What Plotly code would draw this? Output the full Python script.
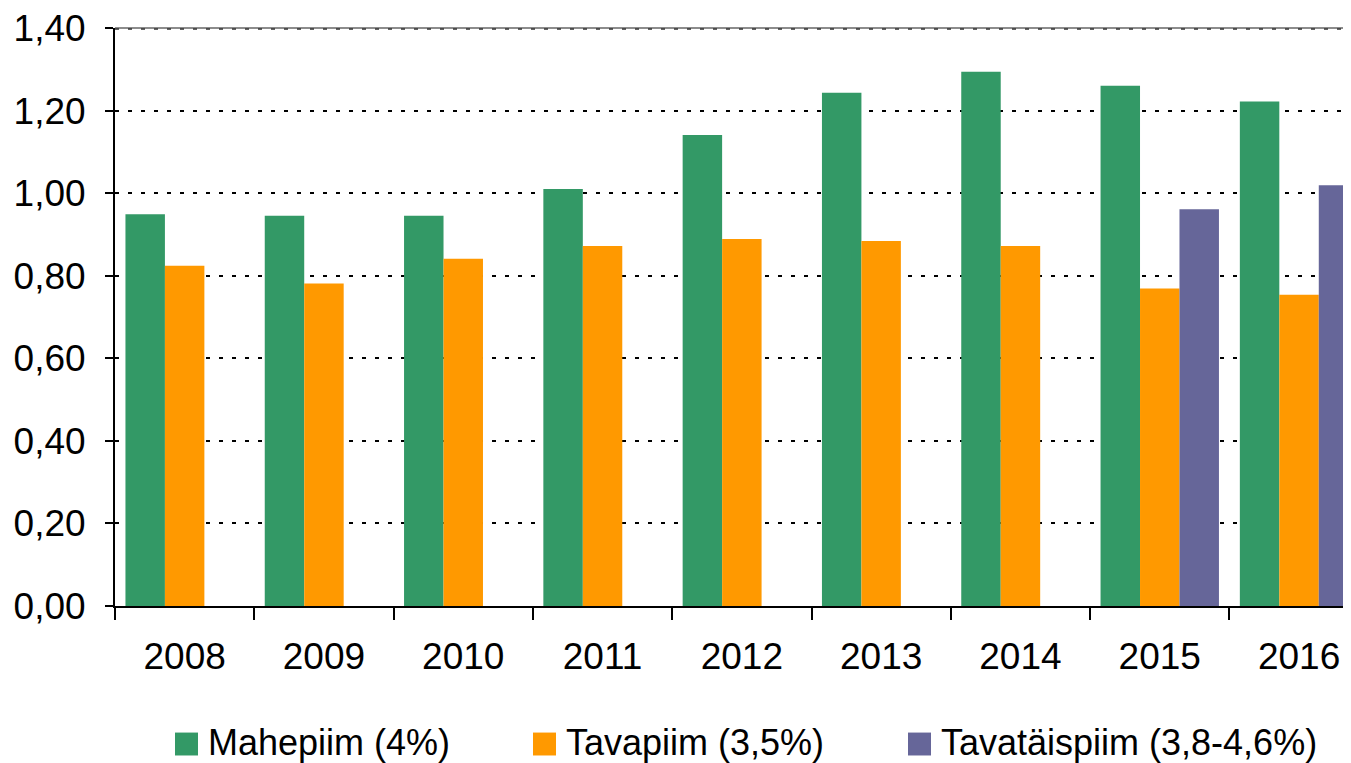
import plotly.graph_objects as go

years = ["2008", "2009", "2010", "2011", "2012", "2013", "2014", "2015", "2016"]
mahepiim = [0.949, 0.945, 0.945, 1.010, 1.141, 1.243, 1.294, 1.260, 1.222]
tavapiim = [0.824, 0.781, 0.841, 0.872, 0.889, 0.884, 0.872, 0.769, 0.754]
tavataispiim = [None, None, None, None, None, None, None, 0.961, 1.019]
series_names = ["Mahepiim (4%)", "Tavapiim (3,5%)", "Tavatäispiim (3,8-4,6%)"]
colors = ["#339966", "#FF9900", "#666699"]
y_ticks = [0.0, 0.2, 0.4, 0.6, 0.8, 1.0, 1.2, 1.4]

# page has an 8px body margin -> work in figure coordinates shifted by 8px
OFF = 8
W, H = 1351 - OFF, 763 - OFF
L, R, T, B = 115 - OFF, 1351 - OFF, 26 - OFF, 606 - OFF
FONT = "Liberation Sans, Arial, sans-serif"
FS = 37
FS_LEG = 36

fig = go.Figure()
for name, vals, col in zip(series_names, [mahepiim, tavapiim, tavataispiim], colors):
    fig.add_trace(go.Bar(x=years, y=vals, name=name, marker=dict(color=col, line=dict(width=0)),
                         showlegend=False))

def px_x(p):
    return (p - OFF - L) / (R - L)

def px_y(p):
    return (B - (p - OFF)) / (B - T)

# custom legend (large square markers), positions given in page pixels
legend_sq_x = [175, 533, 908]
shapes = []
annotations = []
for name, col, sx in zip(series_names, colors, legend_sq_x):
    shapes.append(dict(type="rect", xref="paper", yref="paper",
                       x0=px_x(sx), x1=px_x(sx + 23), y0=px_y(756), y1=px_y(733),
                       fillcolor=col, line=dict(width=0)))
    annotations.append(dict(text=name, xref="paper", yref="paper", x=px_x(sx + 31), y=px_y(743),
                            xanchor="left", yanchor="middle", showarrow=False,
                            font=dict(family=FONT, size=FS_LEG, color="black")))

# top border of plot area: grey line with dotted grid over it
shapes.append(dict(type="line", xref="paper", yref="paper", x0=0, x1=1, y0=1, y1=1,
                   line=dict(color="#8c8c8c", width=2), layer="above"))
shapes.append(dict(type="line", xref="paper", yref="paper", x0=0, x1=1, y0=px_y(27), y1=px_y(27),
                   line=dict(color="#333333", width=1.5, dash="4px,9px"), layer="above"))

fig.update_layout(
    width=W, height=H,
    margin=dict(l=L, r=W - R, t=T, b=H - B, pad=0),
    paper_bgcolor="white", plot_bgcolor="white",
    barmode="group", bargap=0.15, bargroupgap=0,
    separators=", ",
    font=dict(family=FONT, size=FS, color="black"),
    shapes=shapes, annotations=annotations,
    showlegend=False,
)
fig.update_xaxes(
    type="category", range=[-0.5, -0.5 + (R - L) / 139.3],
    showline=True, linecolor="black", linewidth=2,
    ticks="outside", tickson="boundaries", ticklen=12, tickwidth=2, tickcolor="black",
    showgrid=False, ticklabelstandoff=17, ticklabeloverflow="allow",
    tickfont=dict(family=FONT, size=FS, color="black"),
)
fig.update_yaxes(
    range=[0, 1.4], tickvals=y_ticks, tickformat=".2f",
    showline=True, linecolor="black", linewidth=2,
    ticks="outside", ticklen=8, tickwidth=2, tickcolor="black",
    showgrid=True, gridcolor="black", gridwidth=2, griddash="4px,9px",
    zeroline=False, ticklabelstandoff=12, ticklabeloverflow="allow",
    tickfont=dict(family=FONT, size=FS, color="black"),
)

fig.write_html("out.html")
